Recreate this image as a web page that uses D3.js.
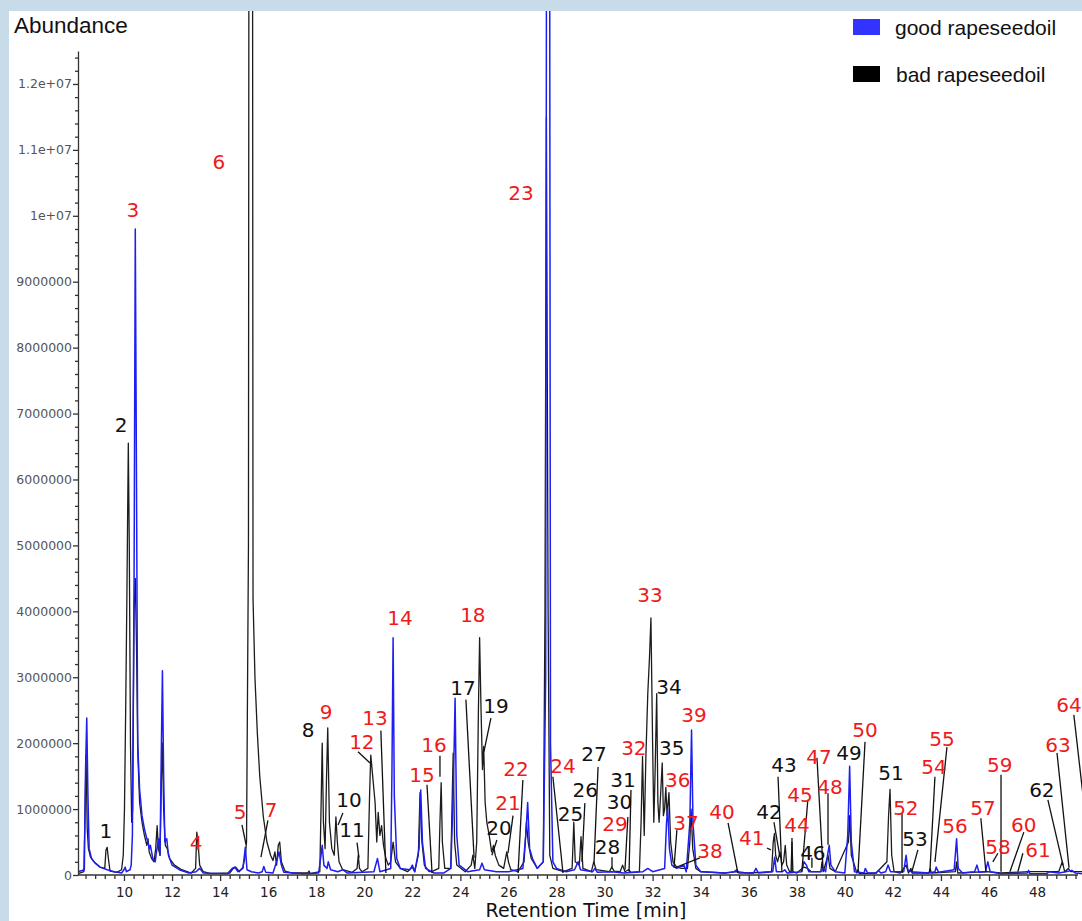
<!DOCTYPE html>
<html>
<head>
<meta charset="utf-8">
<script src="https://cdn.jsdelivr.net/npm/d3@7"></script>
<style>
  html, body { margin: 0; padding: 0; background: #c8dbe9; overflow: hidden; }
  svg { display: block; }
</style>
</head>
<body>
<svg id="chart" width="1082" height="921"></svg>
<script>
// GC-MS total ion chromatograms of two rapeseed oils.
// Each trace: [retention time (min), abundance (millions of counts)].
const goodTrace = [
  [8.09,0.05],[8.35,0.08],[8.40,1.6],[8.45,2.38],[8.50,1.2],[8.55,0.4],[8.65,0.25],[8.8,0.18],[9.0,0.12],
  [9.3,0.08],[9.6,0.05],[9.9,0.03],[10.0,0.08],[10.05,0.12],[10.1,0.05],[10.25,0.08],[10.3,0.15],[10.35,0.6],
  [10.42,4.5],[10.47,9.8],[10.52,6.0],[10.57,2.0],[10.65,1.3],[10.75,0.9],[10.85,0.7],[10.95,0.55],[11.0,0.5],
  [11.05,0.4],[11.1,0.45],[11.2,0.25],[11.3,0.2],[11.35,0.35],[11.45,0.55],[11.5,0.3],[11.55,1.8],[11.6,3.1],
  [11.65,1.5],[11.7,0.5],[11.78,0.55],[11.85,0.3],[12.0,0.15],[12.3,0.08],[12.7,0.03],[13.0,0.05],[13.15,0.1],
  [13.3,0.03],[14.3,0.02],[14.5,0.1],[14.6,0.12],[14.75,0.05],[14.95,0.1],[15.05,0.42],[15.12,0.08],[15.3,0.05],
  [15.6,0.03],[15.75,0.05],[15.82,0.13],[15.9,0.04],[16.2,0.03],[16.35,0.2],[16.45,0.35],[16.55,0.15],[16.65,0.04],
  [17.5,0.02],[18.1,0.03],[18.2,0.3],[18.25,0.45],[18.32,0.15],[18.45,0.1],[18.5,0.2],[18.6,0.08],[18.9,0.05],
  [19.1,0.08],[19.3,0.03],[20.4,0.05],[20.55,0.25],[20.65,0.05],[21.1,0.1],[21.15,1.5],[21.2,3.6],[21.25,1.2],
  [21.35,0.25],[21.5,0.1],[21.9,0.08],[22.0,0.15],[22.1,0.05],[22.28,0.4],[22.35,1.29],[22.42,0.5],[22.55,0.1],
  [22.9,0.03],[23.3,0.03],[23.6,0.1],[23.7,1.2],[23.78,2.68],[23.85,0.6],[23.95,0.15],[24.3,0.05],[24.8,0.08],
  [24.9,0.18],[25.0,0.08],[25.5,0.05],[26.0,0.05],[26.6,0.1],[26.72,0.6],[26.8,1.1],[26.88,0.4],[27.0,0.25],
  [27.2,0.1],[27.45,0.2],[27.55,3.0],[27.6,20],[27.7,20],[27.75,2.0],[27.85,0.2],[28.0,0.1],[28.4,0.05],
  [28.75,0.08],[28.9,0.2],[29.0,0.08],[29.5,0.05],[29.6,0.1],[29.7,0.04],[30.3,0.05],[30.8,0.03],[31.6,0.05],
  [31.8,0.1],[32.0,0.05],[32.5,0.1],[32.58,0.8],[32.63,1.0],[32.7,0.4],[32.8,0.15],[33.0,0.1],[33.3,0.15],
  [33.4,0.05],[33.55,0.8],[33.62,2.2],[33.68,0.8],[33.8,0.15],[34.0,0.05],[35.0,0.03],[35.4,0.05],[35.5,0.08],
  [35.6,0.03],[36.2,0.03],[36.3,0.1],[36.4,0.03],[37.0,0.05],[37.08,0.27],[37.15,0.05],[37.4,0.05],[37.5,0.08],
  [37.6,0.03],[38.2,0.05],[38.3,0.2],[38.4,0.15],[38.5,0.05],[39.0,0.05],[39.1,0.1],[39.2,0.05],[39.28,0.3],
  [39.35,0.45],[39.42,0.15],[39.6,0.05],[40.0,0.03],[40.12,0.6],[40.2,1.65],[40.27,0.5],[40.4,0.05],[40.8,0.03],
  [40.85,0.1],[40.95,0.03],[41.3,0.03],[41.4,0.07],[41.5,0.03],[41.7,0.05],[41.8,0.15],[41.9,0.05],[42.45,0.05],
  [42.55,0.3],[42.62,0.08],[42.75,0.05],[43.5,0.03],[43.75,0.05],[43.8,0.12],[43.9,0.04],[44.55,0.08],[44.65,0.55],
  [44.72,0.1],[44.9,0.03],[45.4,0.05],[45.5,0.15],[45.58,0.04],[45.85,0.05],[45.95,0.2],[46.05,0.05],[46.5,0.02],
  [47.6,0.03],[47.65,0.07],[47.7,0.02],[48.4,0.02],[48.5,0.05],[48.9,0.03],[49.2,0.05],[49.45,0.07],[49.6,0.03],
  [49.87,0.02]
];

const badTrace = [
  [8.09,0.02],[8.33,0.05],[8.38,1.0],[8.42,1.82],[8.47,0.7],[8.52,0.4],[8.6,0.28],[8.75,0.2],[9.0,0.12],[9.2,0.1],
  [9.25,0.38],[9.3,0.42],[9.35,0.25],[9.42,0.06],[9.7,0.04],[9.9,0.08],[9.97,0.3],[10.02,1.0],[10.07,2.5],
  [10.12,4.2],[10.15,5.4],[10.18,6.55],[10.22,5.0],[10.27,2.0],[10.32,0.8],[10.36,1.0],[10.42,4.0],[10.47,4.5],
  [10.52,3.5],[10.58,1.8],[10.65,1.1],[10.75,0.8],[10.85,0.6],[10.95,0.45],[11.0,0.55],[11.05,0.35],[11.15,0.25],
  [11.25,0.2],[11.32,0.4],[11.38,0.75],[11.43,0.4],[11.5,0.3],[11.56,1.5],[11.6,2.0],[11.65,1.0],[11.72,0.45],
  [11.8,0.4],[11.9,0.25],[12.1,0.15],[12.4,0.08],[12.8,0.03],[12.98,0.1],[13.03,0.65],[13.08,0.5],[13.15,0.15],
  [13.3,0.05],[13.6,0.02],[14.4,0.03],[14.55,0.1],[14.65,0.12],[14.8,0.05],[14.95,0.12],[15.05,0.3],[15.1,0.5],
  [15.18,5.0],[15.22,25],[15.33,25],[15.37,4.2],[15.45,3.0],[15.55,2.15],[15.65,1.5],[15.8,0.88],[15.95,0.5],
  [16.1,0.3],[16.2,0.22],[16.28,0.35],[16.35,0.15],[16.42,0.45],[16.48,0.5],[16.55,0.2],[16.7,0.06],[17.0,0.03],
  [17.65,0.03],[17.7,0.06],[17.75,0.02],[18.15,0.05],[18.2,1.0],[18.25,2.0],[18.3,0.8],[18.37,0.4],[18.43,1.5],
  [18.48,2.23],[18.55,0.8],[18.65,0.4],[18.75,0.3],[18.82,0.88],[18.88,0.5],[18.95,0.2],[19.1,0.08],[19.5,0.04],
  [19.7,0.1],[19.75,0.3],[19.8,0.1],[19.9,0.05],[20.15,0.1],[20.22,1.2],[20.27,1.82],[20.35,1.5],[20.45,1.1],
  [20.52,0.5],[20.58,0.95],[20.65,0.6],[20.72,0.75],[20.8,0.45],[20.9,0.25],[21.0,0.15],[21.1,0.2],[21.2,0.5],
  [21.3,0.2],[21.5,0.1],[21.8,0.05],[22.0,0.12],[22.1,0.05],[22.25,0.3],[22.32,1.25],[22.4,0.5],[22.5,0.15],
  [22.7,0.05],[22.85,0.06],[23.1,0.1],[23.15,0.8],[23.2,1.4],[23.25,0.5],[23.35,0.1],[23.6,0.1],[23.65,1.0],
  [23.7,1.85],[23.76,0.5],[23.85,0.15],[24.2,0.05],[24.45,0.15],[24.52,0.3],[24.6,0.1],[24.68,0.5],[24.75,2.5],
  [24.8,3.6],[24.86,2.5],[24.92,1.6],[24.97,1.95],[25.03,1.1],[25.1,0.8],[25.2,0.6],[25.3,0.35],[25.38,0.45],
  [25.45,0.3],[25.6,0.15],[25.8,0.1],[25.93,0.35],[26.0,0.2],[26.1,0.08],[26.4,0.05],[26.65,0.2],[26.75,0.8],
  [26.82,0.5],[26.95,0.25],[27.2,0.1],[27.45,0.2],[27.52,4.0],[27.58,11.5],[27.65,4.0],[27.72,0.3],[27.85,0.1],
  [28.3,0.05],[28.65,0.1],[28.72,0.8],[28.78,0.2],[28.95,0.15],[29.02,0.58],[29.1,0.1],[29.45,0.05],[29.55,0.2],
  [29.65,0.08],[30.2,0.05],[30.3,0.12],[30.4,0.06],[30.65,0.05],[30.75,0.15],[30.85,0.05],[31.0,0.08],[31.1,0.04],
  [31.45,0.05],[31.52,0.8],[31.58,1.8],[31.65,0.6],[31.72,1.8],[31.8,2.76],[31.87,3.3],[31.93,3.9],[32.0,2.0],
  [32.05,0.8],[32.1,1.5],[32.17,2.75],[32.22,1.1],[32.27,0.8],[32.33,1.2],[32.4,1.7],[32.45,0.9],[32.5,1.0],
  [32.55,1.33],[32.6,0.9],[32.68,1.25],[32.75,0.5],[32.85,0.2],[33.0,0.12],[33.2,0.1],[33.45,0.1],[33.55,0.5],
  [33.6,1.0],[33.67,0.4],[33.8,0.1],[34.0,0.05],[35.0,0.03],[35.5,0.05],[36.0,0.03],[36.95,0.05],[37.02,0.5],
  [37.07,0.63],[37.12,0.3],[37.2,0.2],[37.3,0.35],[37.38,0.15],[37.45,0.2],[37.52,0.45],[37.58,0.15],[37.7,0.05],
  [37.76,0.05],[37.8,0.5],[37.84,0.05],[38.0,0.03],[38.3,0.12],[38.45,0.1],[38.6,0.05],[39.0,0.05],[39.05,0.2],
  [39.1,0.05],[39.3,0.3],[39.38,0.1],[39.6,0.05],[40.15,0.5],[40.2,0.9],[40.27,0.3],[40.5,0.03],[40.55,0.08],
  [40.6,0.02],[41.3,0.03],[41.75,0.2],[41.82,0.9],[41.88,1.3],[41.95,0.3],[42.05,0.05],[42.3,0.03],[42.55,0.15],
  [42.65,0.03],[42.75,0.1],[42.8,0.03],[43.5,0.03],[43.55,0.1],[43.6,0.03],[44.6,0.05],[44.65,0.2],[44.7,0.03],
  [45.9,0.05],[46.5,0.03],[47.65,0.05],[48.9,0.05],[49.05,0.2],[49.15,0.05],[49.3,0.1],[49.4,0.05],[49.87,0.05]
];

// Numbered compounds: [number, group, label time, label abundance]; group "r" = red, "k" = black
const peakLabels = [
  [1,"k",9.25,0.67],[2,"k",9.88,6.83],[3,"r",10.37,10.09],[4,"r",13.00,0.49],[5,"r",14.83,0.96],
  [6,"r",13.95,10.82],[7,"r",16.12,0.99],[8,"k",17.66,2.20],[9,"r",18.41,2.47],[10,"k",19.36,1.14],
  [11,"k",19.49,0.68],[12,"r",19.90,2.02],[13,"r",20.45,2.38],[14,"r",21.49,3.90],[15,"r",22.40,1.52],
  [16,"r",22.90,1.97],[17,"k",24.11,2.84],[18,"r",24.52,3.95],[19,"k",25.48,2.56],[20,"k",25.61,0.71],
  [21,"r",25.98,1.09],[22,"r",26.31,1.61],[23,"r",26.52,10.35],[24,"r",28.27,1.65],[25,"k",28.58,0.92],
  [26,"k",29.20,1.29],[27,"k",29.56,1.84],[28,"k",30.12,0.42],[29,"r",30.43,0.78],[30,"k",30.62,1.11],
  [31,"k",30.77,1.44],[32,"r",31.22,1.93],[33,"r",31.89,4.25],[34,"k",32.68,2.85],[35,"k",32.80,1.93],
  [36,"r",33.05,1.44],[37,"r",33.39,0.79],[38,"r",34.39,0.36],[39,"r",33.72,2.43],[40,"r",34.89,0.96],
  [41,"r",36.13,0.56],[42,"k",36.84,0.96],[43,"k",37.47,1.67],[44,"r",38.01,0.76],[45,"r",38.13,1.21],
  [46,"k",38.67,0.33],[47,"r",38.92,1.79],[48,"r",39.38,1.34],[49,"k",40.17,1.85],[50,"r",40.84,2.20],
  [51,"k",41.92,1.55],[52,"r",42.54,1.02],[53,"k",42.92,0.55],[54,"r",43.71,1.64],[55,"r",44.04,2.06],
  [56,"r",44.58,0.74],[57,"r",45.75,1.02],[58,"r",46.37,0.42],[59,"r",46.45,1.67],[60,"r",47.45,0.76],
  [61,"r",48.04,0.38],[62,"k",48.20,1.29],[63,"r",48.87,1.97],[64,"r",49.33,2.58]
];

// Leader lines from a number to its peak: [number, t1, a1, t2, a2]
const leaders = [
  [5,14.91,0.76,15.08,0.46],[7,15.99,0.83,15.70,0.27],[10,19.11,0.94,18.91,0.76],[11,19.70,0.49,19.78,0.26],
  [12,19.74,1.87,20.24,1.70],[13,20.69,2.19,20.90,0.03],[15,22.61,1.37,22.82,0.03],[16,23.15,1.81,23.15,1.49],
  [17,24.23,2.66,24.57,0.26],[19,25.27,2.38,24.98,1.87],[20,25.52,0.53,25.31,0.30],[21,26.19,0.90,25.98,0.33],
  [22,26.60,1.44,26.40,0.03],[24,27.85,1.49,28.27,0.03],[26,29.18,1.09,29.06,0.20],[27,29.73,1.64,29.56,0.17],
  [28,30.31,0.27,30.31,0.11],[30,30.97,0.88,30.85,0.08],[31,31.10,1.29,31.02,0.05],[37,33.01,0.68,32.89,0.11],
  [38,33.97,0.26,32.93,0.11],[40,35.14,0.79,35.55,0.03],[41,36.76,0.41,36.92,0.38],[42,37.05,0.80,37.30,0.27],
  [43,37.22,1.49,37.38,0.05],[44,37.80,0.56,37.80,0.05],[45,38.46,1.14,38.21,0.05],[46,38.63,0.26,38.63,0.11],
  [47,38.84,1.78,39.09,0.11],[48,39.30,1.24,39.30,0.46],[50,40.84,2.02,40.55,0.05],[52,42.38,0.94,42.38,0.03],
  [53,43.04,0.38,42.79,0.05],[54,43.75,1.49,43.54,0.05],[55,44.25,1.94,43.75,0.20],[57,45.66,0.86,45.87,0.05],
  [58,46.37,0.33,46.16,0.20],[59,46.50,1.52,46.50,0.05],[60,47.45,0.65,46.87,0.05],[61,47.41,0.33,47.20,0.05],
  [62,48.45,1.14,49.08,0.15],[63,48.83,1.85,49.33,0.11],[64,49.53,2.43,50.03,0.83]
];

const timeTicks = [10,12,14,16,18,20,22,24,26,28,30,32,34,36,38,40,42,44,46,48];
const abundanceTicks = [0,1,2,3,4,5,6,7,8,9,10,11,12];
const abundanceTickLabels = ["0","1000000","2000000","3000000","4000000","5000000","6000000",
  "7000000","8000000","9000000","1e+07","1.1e+07","1.2e+07"];
const seriesNames = ["good rapeseedoil", "bad rapeseedoil"];

const svg = d3.select("#chart");
const W = 1082, H = 921;

// page frame and white panel
svg.append("rect").attr("width", W).attr("height", H).attr("fill", "#c8dbe9");
svg.append("rect").attr("x", 9).attr("y", 11).attr("width", W - 9).attr("height", H - 11).attr("fill", "#ffffff");

const x = d3.scaleLinear().domain([8.086, 49.87]).range([78, 1082]);
const y = d3.scaleLinear().domain([0, 12.5]).range([875, 51]);

svg.append("clipPath").attr("id", "plotClip")
  .append("rect").attr("x", 78).attr("y", 11).attr("width", W - 78).attr("height", 866);

const line = d3.line().x(d => x(d[0])).y(d => y(d[1]));
const plot = svg.append("g").attr("clip-path", "url(#plotClip)");

plot.append("path").datum(badTrace).attr("d", line)
  .attr("fill", "none").attr("stroke", "#1c1c1c").attr("stroke-width", 1.3).attr("stroke-linejoin", "round");
plot.append("path").datum(goodTrace).attr("d", line)
  .attr("fill", "none").attr("stroke", "#1e1ef2").attr("stroke-width", 1.5).attr("stroke-linejoin", "round");

// axes
const axisColor = "#333";
const yMinor = d3.range(0, 12.41, 0.2).filter(v => Math.abs(v - Math.round(v)) > 1e-6);
const yMinorAxis = svg.append("g").attr("transform", "translate(78,0)")
  .call(d3.axisLeft(y).tickValues(yMinor).tickSize(3).tickSizeOuter(0).tickFormat(""));
yMinorAxis.select(".domain").remove();
const yAxis = svg.append("g").attr("transform", "translate(78,0)")
  .call(d3.axisLeft(y).tickValues(abundanceTicks).tickSize(5).tickSizeOuter(0).tickPadding(1)
    .tickFormat((d, i) => abundanceTickLabels[i]));
yAxis.selectAll("text").attr("font-family", "DejaVu Sans, Verdana, sans-serif").attr("font-size", 12.5)
  .attr("fill", "#555");

const xMinor = d3.range(8.4, 49.8, 0.4).filter(v => Math.abs(v / 2 - Math.round(v / 2)) > 1e-6);
const xMinorAxis = svg.append("g").attr("transform", "translate(0,875)")
  .call(d3.axisBottom(x).tickValues(xMinor).tickSize(4).tickSizeOuter(0).tickFormat(""));
xMinorAxis.select(".domain").remove();
const xAxis = svg.append("g").attr("transform", "translate(0,875)")
  .call(d3.axisBottom(x).tickValues(timeTicks).tickSize(6).tickSizeOuter(0).tickPadding(6));
xAxis.select(".domain").attr("d", "M78,0H1078");
xAxis.selectAll("text").attr("font-family", "DejaVu Sans, Verdana, sans-serif").attr("font-size", 13.5)
  .attr("fill", "#222");

svg.selectAll(".domain, .tick line").attr("stroke", axisColor).attr("stroke-width", 1.3);

// axis titles
svg.append("text").attr("x", 14).attr("y", 25).attr("dominant-baseline", "central")
  .attr("font-family", "Liberation Sans, Arial, sans-serif").attr("font-size", 22.5).attr("fill", "#111")
  .text("Abundance");
svg.append("text").attr("x", 586).attr("y", 910).attr("text-anchor", "middle").attr("dominant-baseline", "central")
  .attr("font-family", "DejaVu Sans, Verdana, sans-serif").attr("font-size", 19).attr("fill", "#111")
  .text("Retention Time [min]");

// leader lines and numbers
svg.append("g").selectAll("line").data(leaders).join("line")
  .attr("x1", d => x(d[1])).attr("y1", d => y(d[2]))
  .attr("x2", d => x(d[3])).attr("y2", d => y(d[4]))
  .attr("stroke", "#111").attr("stroke-width", 1.3);

svg.append("g").selectAll("text").data(peakLabels).join("text")
  .attr("x", d => x(d[2])).attr("y", d => y(d[3]))
  .attr("text-anchor", "middle").attr("dominant-baseline", "central")
  .attr("font-family", "DejaVu Sans, Verdana, sans-serif").attr("font-size", 20)
  .attr("fill", d => d[1] === "r" ? "#f01a1a" : "#111")
  .text(d => d[0]);

// legend
const legendColors = ["#3333ff", "#000000"];
const legend = svg.append("g").selectAll("g").data(seriesNames).join("g")
  .attr("transform", (d, i) => `translate(853,${19 + i * 47})`);
legend.append("rect").attr("width", 27).attr("height", 16).attr("fill", (d, i) => legendColors[i]);
legend.append("text").attr("x", (d, i) => 42 + i).attr("y", 8).attr("dominant-baseline", "central")
  .attr("font-family", "Liberation Sans, Arial, sans-serif").attr("font-size", 21).attr("fill", "#111")
  .text(d => d);
</script>
</body>
</html>
